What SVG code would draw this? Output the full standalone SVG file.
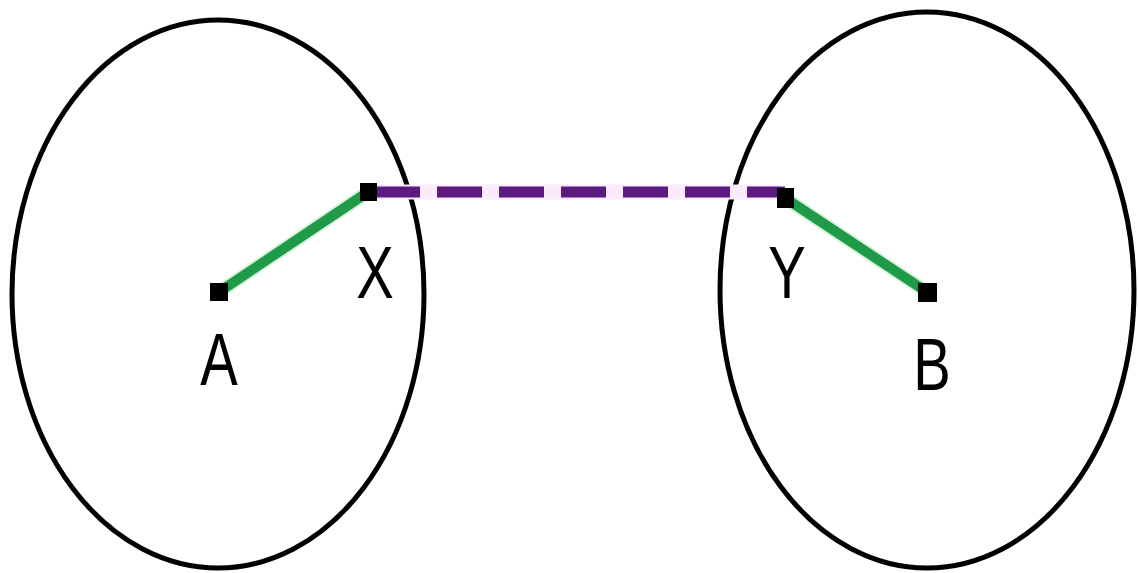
<svg xmlns="http://www.w3.org/2000/svg" width="1139" height="573" viewBox="0 0 1139 573">
<style>
.ell{fill:none;stroke:#000;stroke-width:5}
.g{stroke:#1f9a48;stroke-width:10;stroke-linecap:butt}
.gh{stroke:#d8f4dc;stroke-width:14}
.p{stroke:#5a1a80;stroke-width:11;stroke-dasharray:45 17;stroke-dashoffset:55}
.ph{stroke:#fcebfc;stroke-width:15}
.m{fill:#000}
.lbl{font-family:"Liberation Sans",Arial,sans-serif;font-size:74px;fill:#000;text-anchor:middle}
</style>
<rect width="1139" height="573" fill="#fff"/>
<g id="left-region"><ellipse class="ell" cx="218" cy="294" rx="206" ry="274"/></g>
<g id="right-region"><ellipse class="ell" cx="927" cy="290" rx="207" ry="278"/></g>
<g id="connectors">
<line class="gh" x1="219" y1="292" x2="368" y2="192"/>
<line class="g" x1="219" y1="292" x2="368" y2="192"/>
<line class="gh" x1="785" y1="198" x2="927" y2="292"/>
<line class="g" x1="785" y1="198" x2="927" y2="292"/>
<line class="ph" x1="376" y1="192" x2="778" y2="192"/>
<line class="p" x1="368" y1="192" x2="785" y2="192"/>
</g>
<g id="A"><rect class="m" x="210" y="283" width="18" height="18"/><text class="lbl" transform="translate(219 385) scale(0.76 1)">A</text></g>
<g id="X"><rect class="m" x="360" y="183" width="17" height="18"/><text class="lbl" transform="translate(375 298) scale(0.76 1)">X</text></g>
<g id="Y"><rect class="m" x="777" y="188" width="17" height="20"/><text class="lbl" transform="translate(787 298) scale(0.76 1)">Y</text></g>
<g id="B"><rect class="m" x="918" y="283" width="19" height="19"/><text class="lbl" transform="translate(932 390) scale(0.76 1)">B</text></g>
</svg>
